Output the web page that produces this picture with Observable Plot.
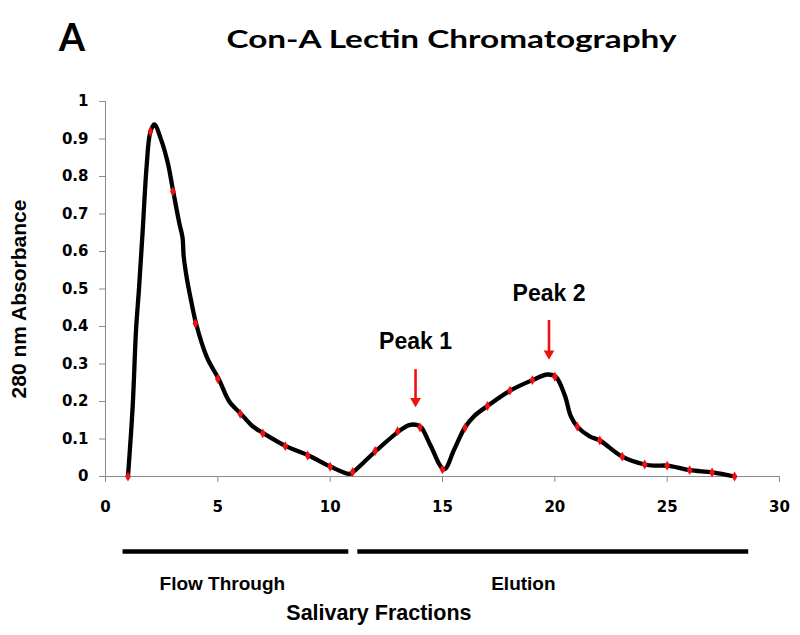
<!DOCTYPE html>
<html>
<head>
<meta charset="utf-8">
<script src="https://cdn.jsdelivr.net/npm/d3@7"></script>
<script src="https://cdn.jsdelivr.net/npm/@observablehq/plot@0.6"></script>
<style>
  html, body { margin: 0; padding: 0; background: #fff; }
  #chart { width: 800px; height: 635px; }
</style>
</head>
<body>
<div id="chart"></div>
<script>
// ---- Data ----
const fractions  = [1, 2, 3, 4, 5, 6, 7, 8, 9, 10, 11, 12, 13, 14, 15, 16, 17, 18, 19, 20, 21, 22, 23, 24, 25, 26, 27, 28];
const absorbance = [0, 0.92, 0.76, 0.408, 0.26, 0.167, 0.115, 0.081, 0.056, 0.026, 0.012, 0.068, 0.121, 0.131, 0.019, 0.13, 0.188, 0.229, 0.257, 0.266, 0.133, 0.096, 0.053, 0.032, 0.029, 0.017, 0.011, 0];

// smoothed trace (black line)
const traceX = [1, 1.21, 1.36, 1.49, 1.65, 1.83, 1.99, 2.17, 2.47, 2.77, 3.0, 3.28, 3.43, 3.48, 3.63, 3.8, 4.03, 4.52, 5.04, 5.51, 6.03, 6.55, 7.04, 8.03, 9.04, 10.03, 10.85, 11.02, 12.03, 13.07, 13.51, 13.89, 14.07, 14.48, 15.07, 15.52, 15.99, 16.41, 17.0, 18.01, 19.0, 19.67, 20.04, 20.45, 20.71, 21.0, 21.55, 22.01, 23.0, 24.01, 24.49, 25.01, 26.01, 27.02, 28.0];
const traceY = [0, 0.187, 0.392, 0.5, 0.65, 0.827, 0.917, 0.939, 0.899, 0.837, 0.765, 0.677, 0.637, 0.587, 0.525, 0.472, 0.408, 0.317, 0.26, 0.2, 0.167, 0.134, 0.115, 0.081, 0.056, 0.026, 0.007, 0.012, 0.068, 0.121, 0.137, 0.137, 0.13, 0.081, 0.019, 0.072, 0.13, 0.161, 0.188, 0.229, 0.257, 0.272, 0.266, 0.215, 0.161, 0.133, 0.107, 0.096, 0.053, 0.032, 0.029, 0.029, 0.017, 0.011, 0];

const xTicks = [0, 5, 10, 15, 20, 25, 30];
const yTicks = [0, 0.1, 0.2, 0.3, 0.4, 0.5, 0.6, 0.7, 0.8, 0.9, 1];

const peakNames     = ["Peak 1", "Peak 2"];
const peakX         = [13.8, 19.74];
const peakArrowTop  = [0.285, 0.416];
const peakArrowTip  = [0.185, 0.312];
const peakLabelY    = [0.36, 0.488];

const sectionNames  = ["Flow Through", "Elution"];
const sectionStart  = [0.78, 11.23];
const sectionEnd    = [10.83, 28.63];
const sectionLabelX = [5.2, 18.6];

const titleText  = "Con-A Lectin Chromatography";
const panelText  = "A";
const xLabelText = "Salivary Fractions";
const xLabelX    = [12.17];
const yLabelText = "280 nm Absorbance";

// ---- tables built from the arrays ----
const points   = fractions.map((f, i) => ({f, a: absorbance[i]}));
const trace    = traceX.map((x, i) => ({x, y: traceY[i]}));
const peaks    = peakNames.map((name, i) => ({name, x: peakX[i], top: peakArrowTop[i], tip: peakArrowTip[i], ly: peakLabelY[i]}));
const sections = sectionNames.map((name, i) => ({name, start: sectionStart[i], end: sectionEnd[i], lx: sectionLabelX[i]}));

const AX = "#8c8c8c";
const ARIAL = "'Liberation Sans', Arial, Helvetica, sans-serif";
const TICKFONT = "'DejaVu Sans', Verdana, sans-serif";
const TITLEFONT = "Lato, 'Open Sans', sans-serif";

const chart = Plot.plot({
  width: 800,
  height: 635,
  marginLeft: 105,
  marginRight: 21,
  marginTop: 101,
  marginBottom: 159,
  x: {domain: [0, 30]},
  y: {domain: [0, 1]},
  style: {fontFamily: ARIAL, fontWeight: "bold", background: "white", color: "black", overflow: "visible"},
  marks: [
    Plot.axisX({ticks: xTicks, tickSize: 6, tickPadding: 19, stroke: AX, fill: "black", fontFamily: TICKFONT, fontSize: 15, fontWeight: "bold", tickFormat: d => String(d), label: null}),
    Plot.axisY({ticks: yTicks, tickSize: 6, tickPadding: 11, stroke: AX, fill: "black", fontFamily: TICKFONT, fontSize: 15, fontWeight: "bold", tickFormat: d => String(d), label: null}),
    Plot.ruleX([0], {stroke: AX, strokeWidth: 1}),
    Plot.ruleY([0], {stroke: AX, strokeWidth: 1}),
    Plot.line(trace, {x: "x", y: "y", curve: "catmull-rom", stroke: "black", strokeWidth: 4.3, strokeLinejoin: "round", strokeLinecap: "round"}),
    Plot.dot(points, {x: "f", y: "a", symbol: "diamond", r: 3, fill: "#f01010", stroke: "none"}),
    // peak arrows + labels
    Plot.ruleX(peaks, {x: "x", y1: "top", y2: "tip", stroke: "#ee1111", strokeWidth: 2.6, insetBottom: 6}),
    Plot.dot(peaks, {x: "x", y: "tip", symbol: "triangle", r: 4, rotate: 180, dy: -6, fill: "#ee1111", stroke: "none"}),
    Plot.text(peaks, {x: "x", y: "ly", text: "name", fontSize: 23, fontWeight: "bold", fontFamily: ARIAL, fill: "black"}),
    // section bars under the axis
    Plot.ruleY(sections, {x1: "start", x2: "end", y: 0, dy: 75, stroke: "black", strokeWidth: 4.5}),
    Plot.text(sections, {x: "lx", y: 0, dy: 107, text: "name", fontSize: 19, fontWeight: "bold", fontFamily: ARIAL, fill: "black"}),
    Plot.text(xLabelX, {x: d => d, y: 0, dy: 137, text: () => xLabelText, fontSize: 21.5, fontWeight: "bold", fontFamily: ARIAL, fill: "black"}),
    // y label
    Plot.text([yLabelText], {frameAnchor: "left", textAnchor: "middle", dx: -86, dy: 10, rotate: -90, text: d => d, fontSize: 21, fontWeight: "bold", fontFamily: ARIAL, fill: "black"}),
    // title and panel letter
    Plot.text([titleText], {frameAnchor: "top", textAnchor: "middle", dx: 9, dy: -71, text: d => d, fontSize: 24, fontWeight: "bold", fontFamily: TITLEFONT, fill: "black"}),
    Plot.text([panelText], {frameAnchor: "top-left", textAnchor: "middle", dx: -33.5, dy: -77, text: d => d, fontSize: 38, fontWeight: "bold", fontFamily: TITLEFONT, fill: "black"})
  ]
});

document.getElementById("chart").appendChild(chart);

// stretch the title horizontally like the reference
d3.select(chart).selectAll("text").filter(function() { return this.textContent === titleText; })
  .attr("textLength", 450).attr("lengthAdjust", "spacingAndGlyphs");
</script>
</body>
</html>
